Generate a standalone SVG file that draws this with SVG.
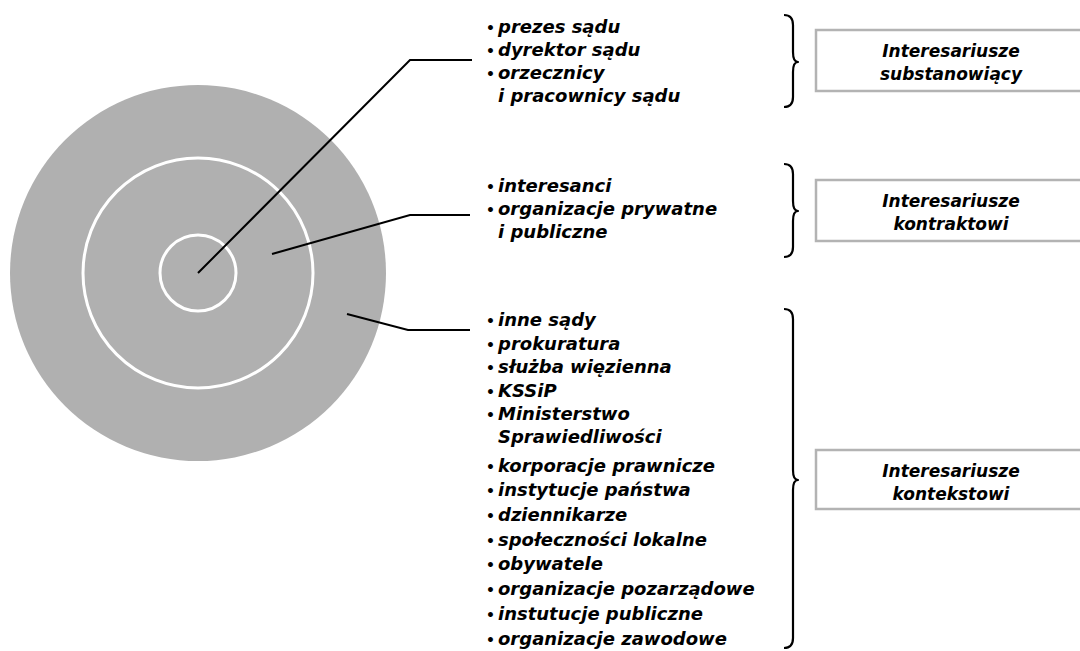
<svg xmlns="http://www.w3.org/2000/svg" width="1080" height="651" viewBox="0 0 1080 651">
<style>
.t{font-family:"DejaVu Sans","Liberation Sans",sans-serif;font-style:italic;font-weight:bold;font-size:18px;fill:#000}
.b{font-size:14px;font-style:normal}
.bx{font-family:"DejaVu Sans","Liberation Sans",sans-serif;font-style:italic;font-weight:bold;font-size:17px;text-anchor:middle;fill:#000}
.ring{fill:none;stroke:#fff;stroke-width:3}
.box{fill:#fff;stroke:#b3b3b3;stroke-width:2.5}
.con{fill:none;stroke:#000;stroke-width:2}
.br{fill:none;stroke:#000;stroke-width:2.2;stroke-linejoin:round}
</style>
<rect width="1080" height="651" fill="#fff"/>
<g id="circles">
<circle cx="198" cy="273" r="188" fill="#b0b0b0"/>
<circle class="ring" cx="198" cy="273" r="115"/>
<circle class="ring" cx="198" cy="273" r="38"/>
</g>
<g id="connectors">
<polyline class="con" points="198,273 410,60 472,60"/>
<polyline class="con" points="272,254 410,215 470,215"/>
<polyline class="con" points="347,314 408,330 470,330"/>
</g>
<g id="list1" class="t">
<text x="486" y="33"><tspan class="b">•</tspan><tspan x="498">prezes sądu</tspan></text>
<text x="486" y="56"><tspan class="b">•</tspan><tspan x="498">dyrektor sądu</tspan></text>
<text x="486" y="79"><tspan class="b">•</tspan><tspan x="498">orzecznicy</tspan></text>
<text x="498" y="102">i pracownicy sądu</text>
</g>
<g id="list2" class="t">
<text x="486" y="192"><tspan class="b">•</tspan><tspan x="498">interesanci</tspan></text>
<text x="486" y="215"><tspan class="b">•</tspan><tspan x="498">organizacje prywatne</tspan></text>
<text x="498" y="238">i publiczne</text>
</g>
<g id="list3" class="t">
<text x="486" y="326"><tspan class="b">•</tspan><tspan x="498">inne sądy</tspan></text>
<text x="486" y="350"><tspan class="b">•</tspan><tspan x="498">prokuratura</tspan></text>
<text x="486" y="373"><tspan class="b">•</tspan><tspan x="498">służba więzienna</tspan></text>
<text x="486" y="397"><tspan class="b">•</tspan><tspan x="498">KSSiP</tspan></text>
<text x="486" y="420"><tspan class="b">•</tspan><tspan x="498">Ministerstwo</tspan></text>
<text x="498" y="443">Sprawiedliwości</text>
<text x="486" y="472"><tspan class="b">•</tspan><tspan x="498">korporacje prawnicze</tspan></text>
<text x="486" y="496"><tspan class="b">•</tspan><tspan x="498">instytucje państwa</tspan></text>
<text x="486" y="521"><tspan class="b">•</tspan><tspan x="498">dziennikarze</tspan></text>
<text x="486" y="546"><tspan class="b">•</tspan><tspan x="498">społeczności lokalne</tspan></text>
<text x="486" y="570"><tspan class="b">•</tspan><tspan x="498">obywatele</tspan></text>
<text x="486" y="595"><tspan class="b">•</tspan><tspan x="498">organizacje pozarządowe</tspan></text>
<text x="486" y="620"><tspan class="b">•</tspan><tspan x="498">instutucje publiczne</tspan></text>
<text x="486" y="645"><tspan class="b">•</tspan><tspan x="498">organizacje zawodowe</tspan></text>
</g>
<g id="braces">
<path class="br" d="M784,15 Q793,15 793,25 L793,52 Q793,62 798,62 Q793,62 793,72 L793,97 Q793,107 784,107"/>
<path class="br" d="M784,164 Q793,164 793,174 L793,201 Q793,211 798,211 Q793,211 793,221 L793,247 Q793,257 784,257"/>
<path class="br" d="M784,309 Q793,309 793,319 L793,470 Q793,480 798,480 Q793,480 793,490 L793,638 Q793,648 784,648"/>
</g>
<g id="box1">
<rect class="box" x="816" y="30" width="270" height="61"/>
<text class="bx" x="951" y="57">Interesariusze</text>
<text class="bx" x="951" y="80">substanowiący</text>
</g>
<g id="box2">
<rect class="box" x="816" y="180" width="270" height="61"/>
<text class="bx" x="951" y="207">Interesariusze</text>
<text class="bx" x="951" y="230">kontraktowi</text>
</g>
<g id="box3">
<rect class="box" x="816" y="450" width="270" height="59"/>
<text class="bx" x="951" y="477">Interesariusze</text>
<text class="bx" x="951" y="500">kontekstowi</text>
</g>
</svg>
